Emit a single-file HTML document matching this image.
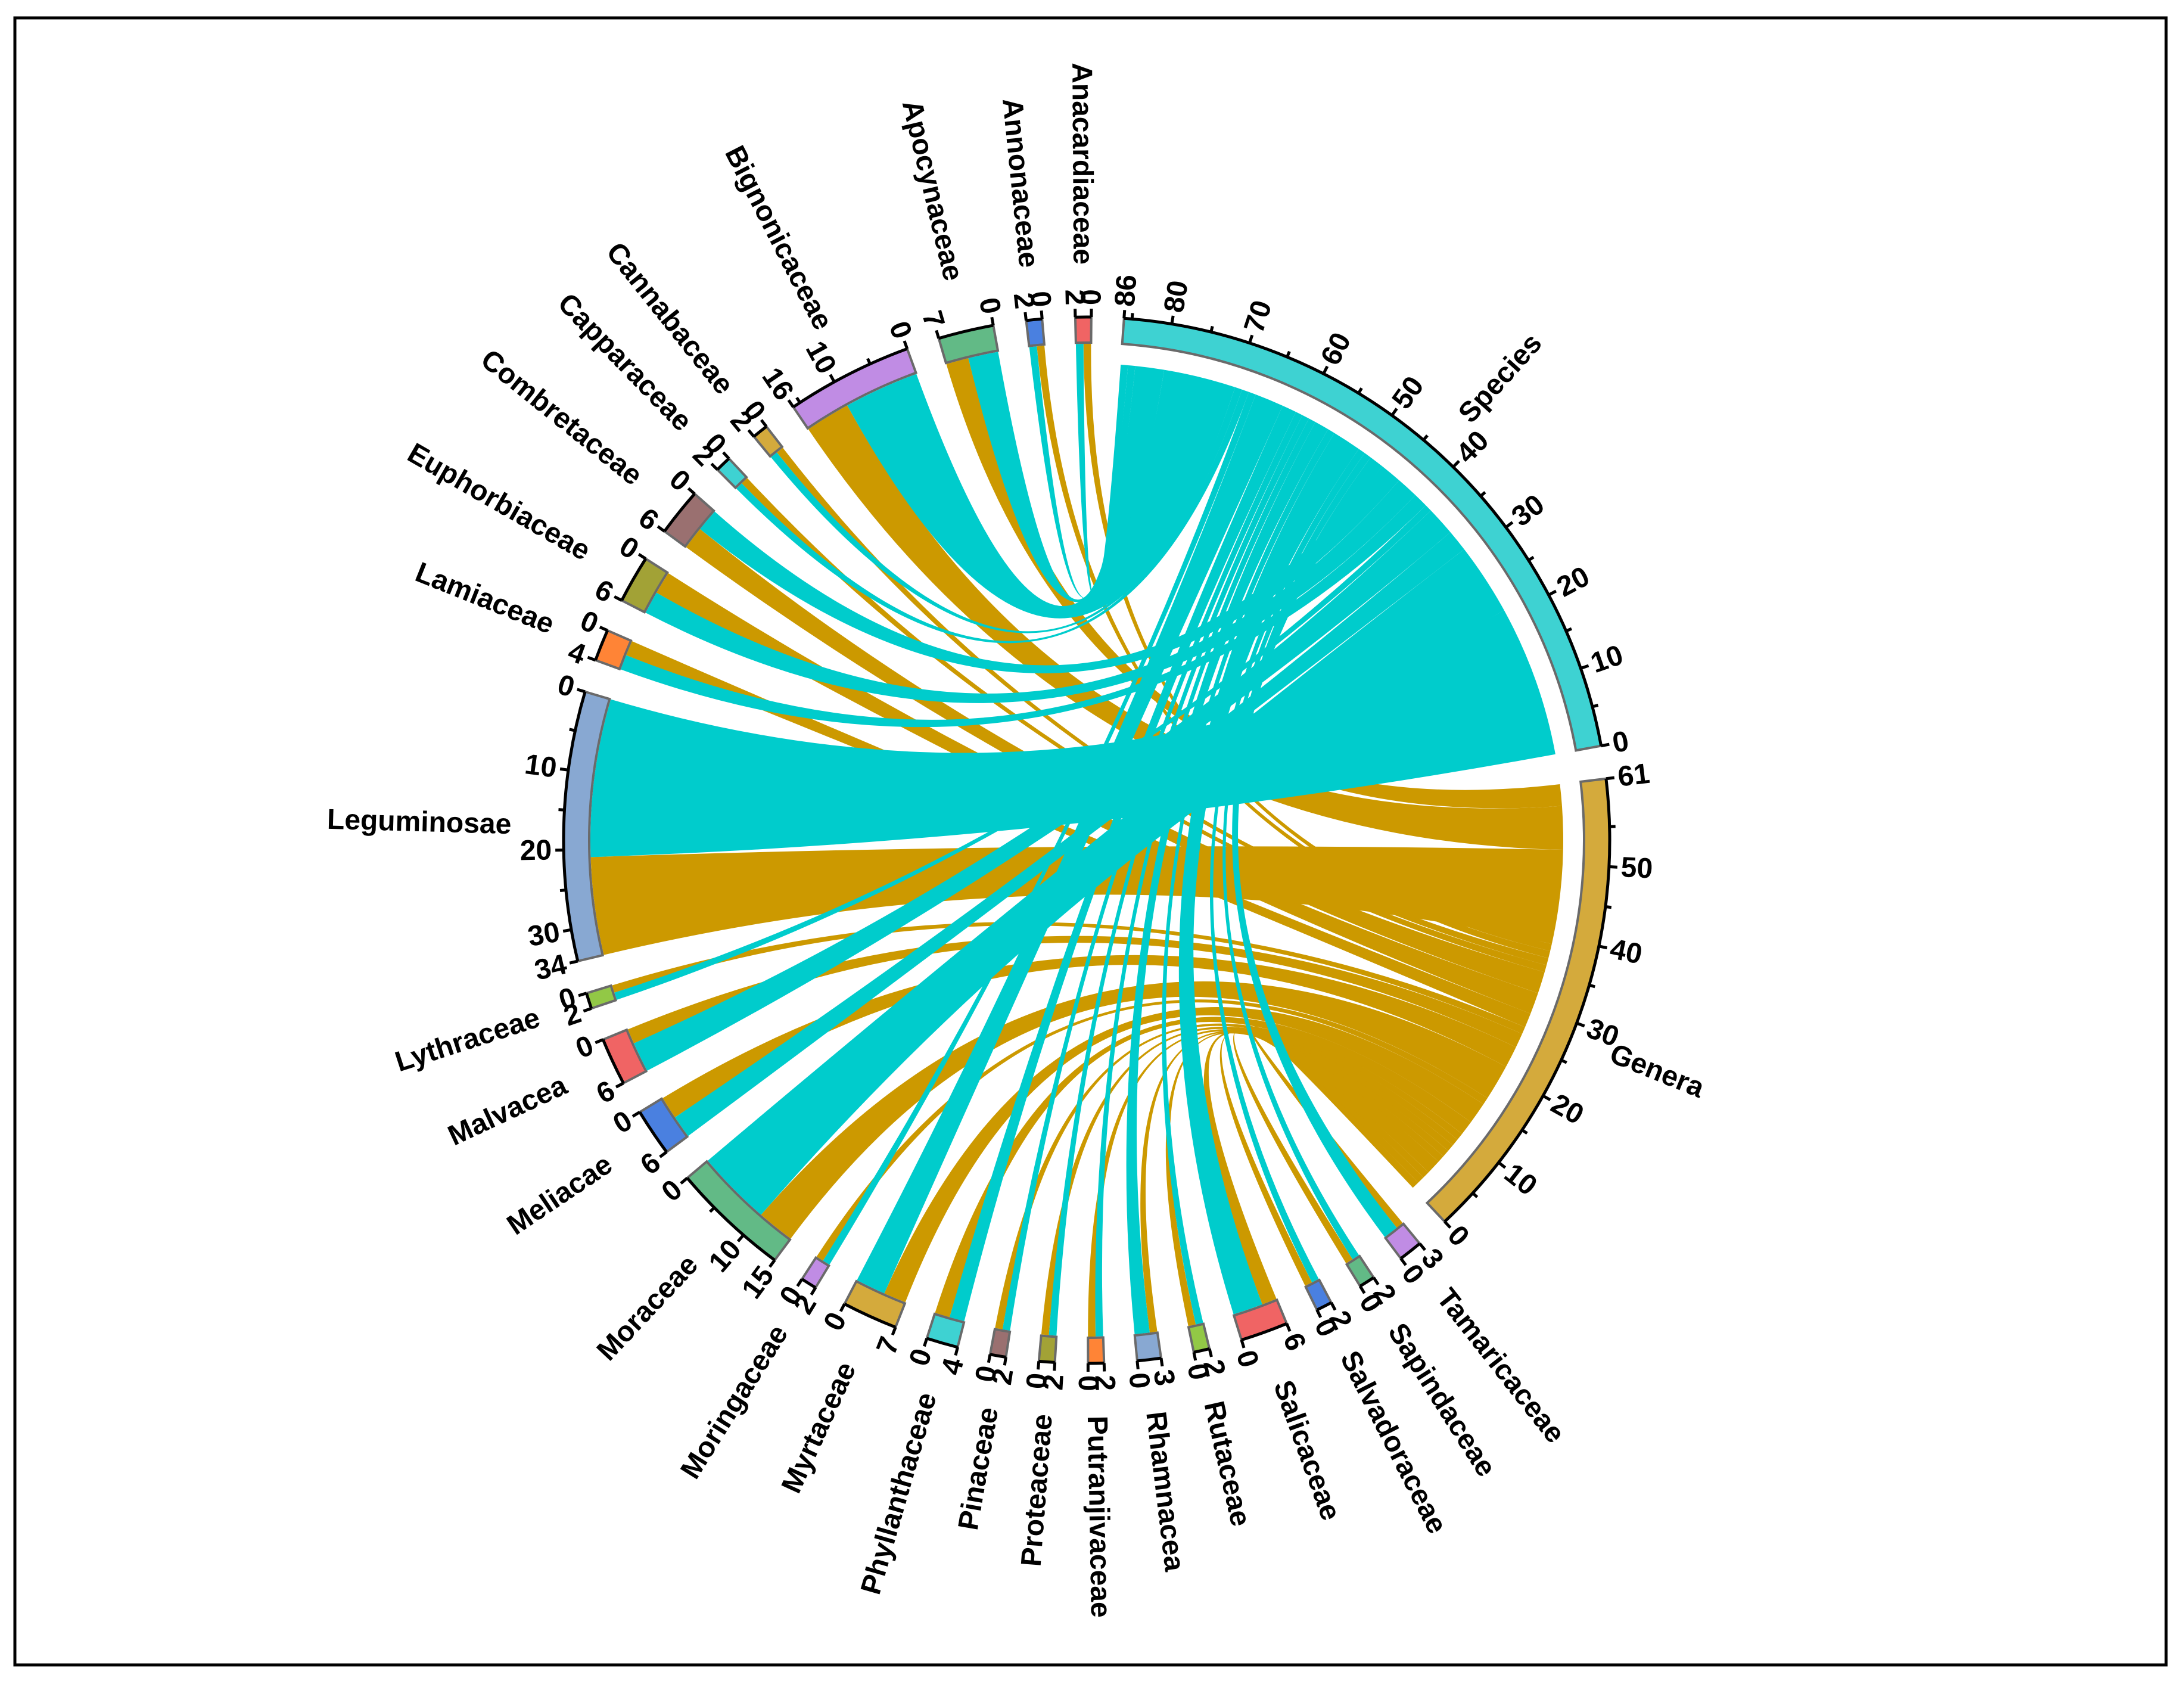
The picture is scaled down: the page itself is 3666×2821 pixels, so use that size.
<!DOCTYPE html>
<html><head><meta charset="utf-8"><style>
html,body{margin:0;padding:0;background:#fff;}
svg{display:block;}
text{font-family:"Liberation Sans",Arial,sans-serif;}
</style></head><body>
<svg id="chart" width="3666" height="2821" viewBox="0 0 3666 2821" xmlns="http://www.w3.org/2000/svg">
<rect x="25" y="30" width="3611" height="2764" fill="#fff" stroke="#000" stroke-width="5"/>
<g id="ribbons"></g>
<g id="rings"></g>
<g id="axes"></g>
<g id="labels"></g>
</svg>
<script>
const families = ["Anacardiaceae","Annonaceae","Apocynaceae","Bignonicaceae","Cannabaceae","Capparaceae","Combretaceae","Euphorbiaceae","Lamiaceae","Leguminosae","Lythraceae","Malvacea","Meliacae","Moraceae","Moringaceae","Myrtaceae","Phyllanthaceae","Pinaceae","Proteaceae","Putranjivaceae","Rhamnacea","Rutaceae","Salicaceae","Salvadoraceae","Sapindaceae","Tamaricaceae"];
const speciesCounts = [1,1,4,10,1,1,3,3,2,21,1,4,3,10,1,4,2,1,1,1,2,1,4,1,1,2];
const generaCounts  = [1,1,3,6,1,1,3,3,2,13,1,2,3,5,1,3,2,1,1,1,1,1,2,1,1,1];
const cyanClockwise = [0,0,1,1,0,0,1,0,0,1,0,0,0,1,0,1,0,0,0,0,1,0,1,0,0,1];
const familyColors = ["#F06464","#4A80E0","#62BA86","#C08CE4","#D4AA3C","#3ED2D2","#9A7070","#A2A236","#FF8436","#88A8D2","#92C846","#F06464","#4A80E0","#62BA86","#C08CE4","#D4AA3C","#3ED2D2","#9A7070","#A2A236","#FF8436","#88A8D2","#92C846","#F06464","#4A80E0","#62BA86","#C08CE4"];
const speciesOrder = ["Leguminosae","Moraceae","Meliacae","Malvacea","Lythraceae","Lamiaceae","Euphorbiaceae","Combretaceae","Tamaricaceae","Sapindaceae","Salvadoraceae","Salicaceae","Rutaceae","Rhamnacea","Putranjivaceae","Proteaceae","Pinaceae","Phyllanthaceae","Myrtaceae","Moringaceae","Capparaceae","Cannabaceae","Bignonicaceae","Apocynaceae","Annonaceae","Anacardiaceae"];
const generaOrder = ["Tamaricaceae","Sapindaceae","Salvadoraceae","Salicaceae","Rutaceae","Rhamnacea","Putranjivaceae","Proteaceae","Pinaceae","Phyllanthaceae","Myrtaceae","Moringaceae","Moraceae","Meliacae","Malvacea","Lythraceae","Lamiaceae","Euphorbiaceae","Combretaceae","Capparaceae","Cannabaceae","Annonaceae","Anacardiaceae","Leguminosae","Bignonicaceae","Apocynaceae"];

const NS="http://www.w3.org/2000/svg";
const CX=1824, CY=1410, RIN=835, ROUT=878;
const START=4.1, UNIT=0.878, GAP=3.64;
const CYAN="#00CCCC", GOLD="#CC9900";

function el(tag, attrs, parent){const e=document.createElementNS(NS,tag);for(const k in attrs)e.setAttribute(k,attrs[k]);parent.appendChild(e);return e;}
function pt(theta,r){const a=theta*Math.PI/180;return [CX+r*Math.sin(a), CY-r*Math.cos(a)];}

const totalSpecies = speciesCounts.reduce((a,b)=>a+b,0);
const totalGenera = generaCounts.reduce((a,b)=>a+b,0);
const sectors=[{name:"Species",size:totalSpecies,color:"#3ED2D2",main:true},{name:"Genera",size:totalGenera,color:"#D4AA3C",main:true}];
for(let i=families.length-1;i>=0;i--) sectors.push({name:families[i],size:speciesCounts[i]+generaCounts[i],color:familyColors[i],idx:i});
let cur=START;
sectors.forEach(s=>{s.start=cur;s.end=cur+s.size*UNIT;cur=s.end+GAP;});
const byName={};sectors.forEach(s=>byName[s.name]=s);
function ang(s,v){return s.start+(s.size-v)*UNIT;}

function arcPath(t1,t2,r){const p=pt(t2,r);const large=(t2-t1)>180?1:0;return `A${r},${r} 0 ${large} 1 ${p[0]},${p[1]}`;}

const ribG=document.getElementById('ribbons');
function ribbon(s1,v1a,v1b,r1,s2,v2a,v2b,r2,color,name){
  const a1=ang(s1,v1b),a2=ang(s1,v1a),b1=ang(s2,v2b),b2=ang(s2,v2a);
  const p0=pt(a1,r1),q0=pt(b1,r2);
  const d=`M${p0[0]},${p0[1]} ${arcPath(a1,a2,r1)} Q${CX},${CY} ${q0[0]},${q0[1]} ${arcPath(b1,b2,r2)} Q${CX},${CY} ${p0[0]},${p0[1]}Z`;
  const p=el('path',{d:d,fill:color},ribG);
  
  
}
const spPos={},gePos={};
let c=0;speciesOrder.forEach(n=>{const i=families.indexOf(n);spPos[n]=[c,c+speciesCounts[i]];c+=speciesCounts[i];});
c=0;generaOrder.forEach(n=>{const i=families.indexOf(n);gePos[n]=[c,c+generaCounts[i]];c+=generaCounts[i];});
const links=[];
families.forEach((n,i)=>{
  const s=byName[n],sp=speciesCounts[i],ge=generaCounts[i],tot=sp+ge;
  let cy,gd;
  if(cyanClockwise[i]){cy=[0,sp];gd=[sp,tot];}else{gd=[0,ge];cy=[ge,tot];}
  links.push({s,range:cy,tgt:byName.Species,t:spPos[n],color:CYAN,name:'link-'+n.toLowerCase()+'-species'});
  links.push({s,range:gd,tgt:byName.Genera,t:gePos[n],color:GOLD,name:'link-'+n.toLowerCase()+'-genera'});
});
links.filter(l=>l.color===GOLD).forEach(l=>ribbon(l.s,l.range[0],l.range[1],RIN-2,l.tgt,l.t[0],l.t[1],RIN-35,l.color,l.name));
links.filter(l=>l.color===CYAN).forEach(l=>ribbon(l.s,l.range[0],l.range[1],RIN-2,l.tgt,l.t[0],l.t[1],RIN-35,l.color,l.name));

const ringG=document.getElementById('rings'),axG=document.getElementById('axes'),labG=document.getElementById('labels');
function radialText(theta,r,txt,size,weight,name,parent){
  let phi=theta-90; phi=((phi%360)+360)%360; if(phi>180)phi-=360;
  const outward=(phi>-90&&phi<=90);
  const rot=outward?phi:phi+180;
  const p=pt(theta,r);
  const t=el('text',{x:p[0],y:p[1],'font-size':size,'font-weight':weight,'text-anchor':outward?'start':'end','dominant-baseline':'central',transform:`rotate(${rot} ${p[0]} ${p[1]})`,fill:'#000'},parent);
  t.textContent=txt;
  
  
}
sectors.forEach(s=>{
  const key=s.name.toLowerCase();
  const o1=pt(s.start,ROUT),o2=pt(s.end,ROUT),i1=pt(s.end,RIN),i2=pt(s.start,RIN);
  const large=(s.end-s.start)>180?1:0;
  const d=`M${o1[0]},${o1[1]} A${ROUT},${ROUT} 0 ${large} 1 ${o2[0]},${o2[1]} L${i1[0]},${i1[1]} A${RIN},${RIN} 0 ${large} 0 ${i2[0]},${i2[1]}Z`;
  const r=el('path',{d:d,fill:s.color,stroke:'#6a6a6a','stroke-width':4},ringG);
  
  
  const ax=el('path',{d:`M${o1[0]},${o1[1]} A${ROUT},${ROUT} 0 ${large} 1 ${o2[0]},${o2[1]}`,fill:'none',stroke:'#000','stroke-width':5},axG);
  
  
  const labelled=[0];
  if(s.size>=10){for(let v=10;v<s.size;v+=10){if(s.size-v>=3)labelled.push(v);}}
  labelled.push(s.size);
  const ticks=new Set(labelled);
  if(s.size>=10){for(let v=5;v<s.size;v+=10)ticks.add(v);}
  ticks.forEach(v=>{
    const th=ang(s,v);const a=pt(th,ROUT),b=pt(th,ROUT+(labelled.includes(v)?14:10));
    const tk=el('line',{x1:a[0],y1:a[1],x2:b[0],y2:b[1],stroke:'#000','stroke-width':5},axG);
    
    
  });
  labelled.forEach(v=>radialText(ang(s,v),ROUT+20,String(v),48,'bold','tick-label-'+key+'-'+v,labG));
  const mid=s.main?(s.start+s.end)/2+(s.name==='Species'?0:2):(s.start+s.end)/2;
  radialText(mid,s.main?950:ROUT+88,s.name,48,'bold','label-'+key,labG);
});
</script>
</body></html>
